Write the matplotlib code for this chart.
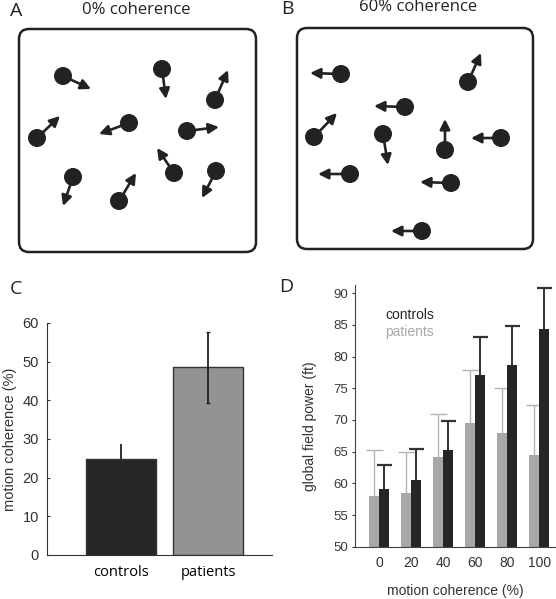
import numpy as np
import matplotlib
matplotlib.use("Agg")
import matplotlib.pyplot as plt
from matplotlib.patches import FancyBboxPatch, Circle

plt.rcParams['font.family'] = ['Liberation Sans', 'DejaVu Sans']

# ---------------- data ----------------
# panel C: motion coherence threshold
GROUPS = ['controls', 'patients']
THRESH = [24.7, 48.6]
THRESH_ERR_UP = [4.1, 9.1]
THRESH_ERR_DN = [0.0, 9.3]

# panel D: global field power by coherence level
COHERENCE = [0, 20, 40, 60, 80, 100]
GFP_PATIENTS = [58.0, 58.5, 64.1, 69.5, 67.9, 64.4]
GFP_PATIENTS_ERR = [7.3, 6.5, 6.8, 8.4, 7.1, 8.0]
GFP_CONTROLS = [59.1, 60.5, 65.2, 77.1, 78.6, 84.4]
GFP_CONTROLS_ERR = [3.8, 4.9, 4.6, 6.0, 6.3, 6.5]

# panels A/B: schematic dots (pixel coords) and arrow tips
A_DOT_X = [63, 162, 215, 37, 129, 187, 174, 216, 73, 119]
A_DOT_Y = [76, 69, 100, 138, 123, 131, 173, 171, 177, 201]
A_TIP_X = [91, 166, 228, 60, 99, 219, 157, 202, 63, 136]
A_TIP_Y = [89, 99, 70, 116, 134, 127, 148, 198, 206, 173]

B_DOT_X = [341, 468, 405, 314, 383, 445, 501, 350, 451, 422]
B_DOT_Y = [74, 82, 107, 137, 134, 150, 138, 174, 183, 231]
B_TIP_X = [310, 481, 374, 337, 388, 445, 471, 318, 420, 391]
B_TIP_Y = [73, 53, 106, 113, 165, 119, 138, 174, 182, 231]

W, H = 556, 599
fig = plt.figure(figsize=(W / 100, H / 100), dpi=100)

# ---------------- A / B schematics ----------------
sk = fig.add_axes([0, 0, 1, 1])
sk.set_xlim(0, W)
sk.set_ylim(H, 0)
sk.axis('off')


def draw_panel(x0, y0, x1, y1, dx, dy, tx, ty):
    box = FancyBboxPatch((x0 + 10, y0 + 10), x1 - x0 - 20, y1 - y0 - 20,
                         boxstyle="round,pad=10", fc='white', ec='#222222', lw=1.8)
    sk.add_patch(box)
    for i in range(len(dx)):
        sk.annotate('', xy=(tx[i], ty[i]), xytext=(dx[i], dy[i]),
                    arrowprops=dict(arrowstyle='-|>', color='#222222', lw=1.9,
                                    mutation_scale=15, shrinkA=0, shrinkB=0))
        sk.add_patch(Circle((dx[i], dy[i]), 8.3, color='#222222', zorder=3))


draw_panel(19, 29, 256, 252, A_DOT_X, A_DOT_Y, A_TIP_X, A_TIP_Y)
draw_panel(297, 28, 533, 249, B_DOT_X, B_DOT_Y, B_TIP_X, B_TIP_Y)

sk.text(136, 10, '0% coherence', ha='center', va='center', fontsize=12,
        family='Open Sans', color='#222222')
sk.text(418, 7, '60% coherence', ha='center', va='center', fontsize=12,
        family='Open Sans', color='#222222')
for lab, x, y in [('A', 16, 11), ('B', 287, 9), ('C', 16, 289), ('D', 286, 287)]:
    sk.text(x, y, lab, ha='center', va='center', fontsize=14,
            family='Open Sans', color='#222222')

# ---------------- C ----------------
axc = fig.add_axes([47.3 / W, 1 - 555 / H, 224.4 / W, 232 / H])
xc = np.arange(len(GROUPS))
axc.bar(xc, THRESH, width=0.805, color=['#262626', '#939393'],
        edgecolor='#333333', linewidth=1.0)
for i in range(len(GROUPS)):
    axc.errorbar(xc[i], THRESH[i], yerr=[[THRESH_ERR_DN[i]], [THRESH_ERR_UP[i]]],
                 fmt='none', ecolor='#222222', elinewidth=1.3,
                 capsize=1.5 if THRESH_ERR_DN[i] > 0 else 0)
axc.set_xlim(-0.847, 1.732)
axc.set_ylim(0, 60)
axc.set_yticks(range(0, 61, 10))
axc.set_xticks(xc)
axc.set_xticklabels(GROUPS, family='Open Sans', fontsize=10.5)
axc.tick_params(axis='x', length=0, pad=7)
axc.tick_params(axis='y', direction='in', length=2, labelsize=10.5, pad=6,
                colors='#333333')
for s in ['top', 'right']:
    axc.spines[s].set_visible(False)
for s in ['left', 'bottom']:
    axc.spines[s].set_color('#333333')
axc.set_ylabel('motion coherence (%)', fontsize=10.5, color='#333333', labelpad=4)

# ---------------- D ----------------
axd = fig.add_axes([355.3 / W, 1 - 546.7 / H, 200.7 / W, 261.7 / H])
xd = np.arange(len(COHERENCE))
bw = 0.31
xp = xd - bw / 2
xk = xd + bw / 2
top_p = np.add(GFP_PATIENTS, GFP_PATIENTS_ERR)
top_k = np.add(GFP_CONTROLS, GFP_CONTROLS_ERR)
axd.vlines(xp, GFP_PATIENTS, top_p, color='#b4b4b4', lw=1.0, zorder=1)
axd.hlines(top_p, xp - 0.27, xp + 0.27, color='#b4b4b4', lw=1.0, zorder=1)
axd.vlines(xk, GFP_CONTROLS, top_k, color='#333333', lw=1.4, zorder=1)
axd.hlines(top_k, xk - 0.24, xk + 0.24, color='#333333', lw=1.6, zorder=1)
axd.bar(xp, GFP_PATIENTS, width=bw, color='#a8a8a8', zorder=2)
axd.bar(xk, GFP_CONTROLS, width=bw, color='#262626', zorder=2)
axd.set_xlim(-0.75, 5.52)
axd.set_ylim(50, 91.3)
axd.set_yticks(range(50, 91, 5))
axd.set_xticks(xd)
axd.set_xticklabels([str(c) for c in COHERENCE], fontsize=10)
axd.tick_params(axis='x', length=0, pad=7, colors='#333333')
axd.tick_params(axis='y', direction='out', length=2, labelsize=9.5, pad=3,
                colors='#3a3a3a')
for s in ['top', 'right']:
    axd.spines[s].set_visible(False)
for s in ['left', 'bottom']:
    axd.spines[s].set_color('#444444')
axd.set_ylabel('global field power (ft)', fontsize=10, color='#333333', labelpad=12)
axd.yaxis.label.set_y(0.46)
axd.set_xlabel('motion coherence (%)', fontsize=10, color='#333333', labelpad=10)
fig.text(385 / W, 1 - 315 / H, 'controls', fontsize=10, color='#262626', va='center')
fig.text(385 / W, 1 - 332 / H, 'patients', fontsize=10, color='#a8a8a8', va='center')

fig.savefig('out.png', dpi=100)
